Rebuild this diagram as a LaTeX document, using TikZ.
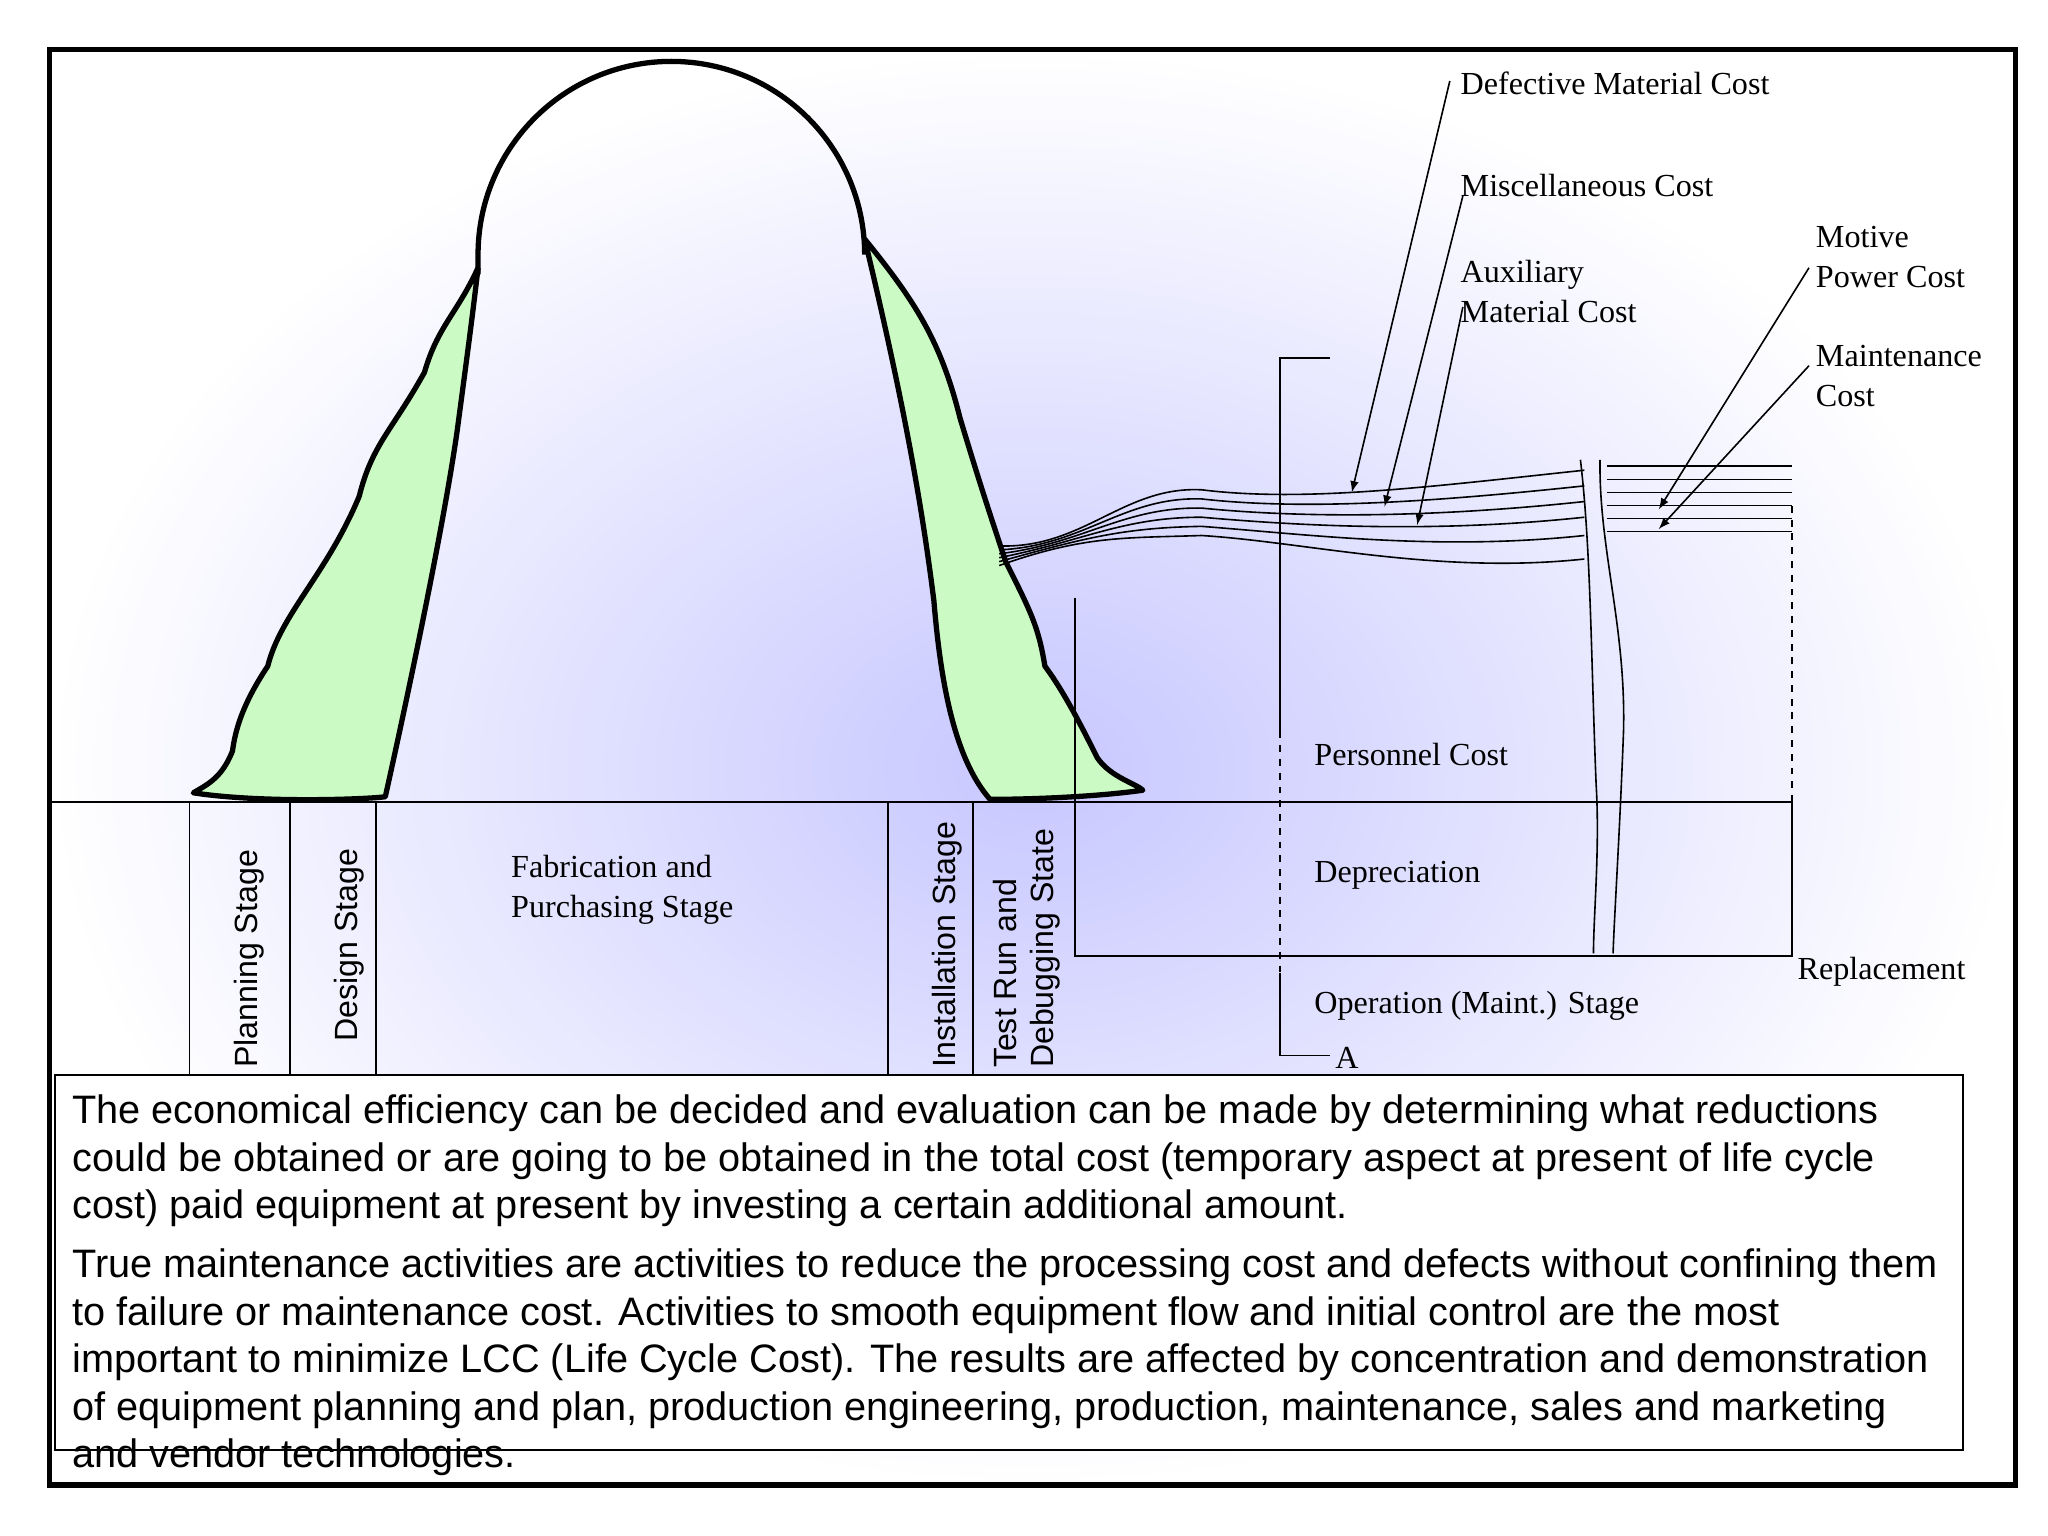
\documentclass[tikz,border=0pt]{standalone}
\usepackage{fontspec}
\setmainfont{Liberation Serif}
\setsansfont{Liberation Sans}
\usetikzlibrary{positioning,shadings}
\definecolor{legfill}{RGB}{204,250,196}
\tikzset{
  heavy/.style={line width=2.3pt,line join=round},
  thin/.style={line width=0.7pt},
  lbl/.style={anchor=west,font=\fontsize{14}{17.5}\selectfont,align=left,inner sep=0pt},
  stage/.style={rotate=90,anchor=west,font=\sffamily\fontsize{14}{16}\selectfont,align=left,inner sep=0pt},
  pointer/.style={thin,-latex},
}
\begin{document}
\begin{tikzpicture}[x=0.02cm,y=-0.02cm]
  \useasboundingbox (0,0) rectangle (1568,1176);
  % background
  \fill[white] (38,38) rectangle (1543,1137);
  \shade[inner color=blue!22,outer color=white] (38,38) rectangle (1543,1137);
  % green legs of the arch
  \filldraw[fill=legfill,heavy] (366,205) .. controls (350,240) and (335,250) .. (325,285)
    .. controls (300,330) and (285,340) .. (275,380) .. controls (250,440) and (215,470) .. (205,510)
    .. controls (185,540) and (180,560) .. (178,575) .. controls (170,595) and (160,600) .. (148,607)
    .. controls (200,615) and (280,612) .. (295,610)
    .. controls (315,520) and (340,400) .. (350,330) .. controls (358,270) and (362,240) .. (366,205);
  \filldraw[fill=legfill,heavy] (662,183) .. controls (700,230) and (720,260) .. (735,320)
    .. controls (750,370) and (760,400) .. (770,430) .. controls (790,470) and (795,480) .. (800,510)
    .. controls (815,530) and (830,560) .. (840,580)
    .. controls (850,595) and (870,600) .. (875,605) .. controls (840,610) and (790,612) .. (758,612)
    .. controls (730,580) and (720,520) .. (715,460) .. controls (705,380) and (690,300) .. (662,183);
  % arch
  \draw[heavy] (366,210) -- (366,195) arc[start angle=180,end angle=360,radius=148];
  % stage grid
  \coordinate (b0) at (38,614);
  \coordinate (b1) at (1372,614);
  \draw[thin] (b0) -- (b1);
  \foreach \x in {145,222,288,680,745}
    \draw[thin] (\x,614) -- (\x,822);
  \draw[thin] (823,458) -- (823,732) -- (1372,732) -- (1372,614);
  \draw[thin,dashed] (1372,614) -- (1372,385);
  % bracket A
  \draw[thin] (1018,274) -- (980,274) -- (980,560);
  \draw[thin,dashed] (980,560) -- (980,745);
  \draw[thin] (980,745) -- (980,808) -- (1018,808);
  % cost lines
  \foreach \k/\e in {0/360,1/372,2/384,3/396,4/410,5/428}
    \draw[thin] (765,418+\k*3) .. controls (830,420-\k*2) and (860,372+\k*8) .. (920,375+\k*7)
      .. controls (1000,385+\k*6) and (1100,\e+12) .. (1213,\e);
  \foreach \k in {0,...,5}
    \draw[thin] (1230,357+\k*10) -- (1372,357+\k*10);
  % double break line
  \draw[thin] (1210,352) .. controls (1218,420) and (1218,500) .. (1222,600) .. controls (1225,650) and (1220,700) .. (1220,730);
  \draw[thin] (1225,352) .. controls (1224,420) and (1245,480) .. (1243,560) .. controls (1240,640) and (1236,700) .. (1235,730);
  % labels
  \node[lbl] (defect) at (1118,64) {Defective Material Cost};
  \node[lbl] (misc) at (1118,142) {Miscellaneous Cost};
  \node[lbl] (aux) at (1118,223) {Auxiliary\\Material Cost};
  \node[lbl] (motive) at (1390,197) {Motive\\Power Cost};
  \node[lbl] (maint) at (1390,288) {Maintenance\\Cost};
  \node[lbl] (person) at (1006,578) {Personnel Cost};
  \node[lbl] (depr) at (1006,670) {Depreciation};
  \node[lbl] (repl) at (1376,744) {Replacement};
  \node[lbl] (oper) at (1006,770) {Operation (Maint.) Stage};
  \node[lbl] (pointA) at (1022,810) {A};
  \node[lbl] (fabr) at (391,681) {Fabrication and\\Purchasing Stage};
  % pointers
  \draw[pointer] (1110,62) -- (1035,377);
  \draw[pointer] (1120,150) -- (1060,388);
  \draw[pointer] (1120,235) -- (1085,402);
  \draw[pointer] (1385,205) -- (1270,390);
  \draw[pointer] (1385,280) -- (1270,405);
  % rotated stage names
  \node[stage] (plan) at (191,818) {Planning Stage};
  \node[stage] (design) at (267,798) {Design Stage};
  \node[stage] (install) at (725,818) {Installation Stage};
  \node[stage,anchor=south west] (test) at (812,818) {Test Run and\\Debugging State};
  % text box
  \draw[thin,fill=white] (42,823) rectangle (1503,1110);
  \node[anchor=north west,inner sep=0pt,align=left,font=\sffamily\fontsize{17.3}{20.7}\selectfont] (body) at (55,838)
    {The economical efficiency can be decided and evaluation can be made by determining what reductions\\
     could be obtained or are going to be obtained in the total cost (temporary aspect at present of life cycle\\
     cost) paid equipment at present by investing a certain additional amount.\\[5pt]
     True maintenance activities are activities to reduce the processing cost and defects without confining them\\
     to failure or maintenance cost. Activities to smooth equipment flow and initial control are the most\\
     important to minimize LCC (Life Cycle Cost). The results are affected by concentration and demonstration\\
     of equipment planning and plan, production engineering, production, maintenance, sales and marketing\\
     and vendor technologies.};
  % frame
  \draw[line width=2.3pt] (38,38) rectangle (1543,1137);
\end{tikzpicture}
\end{document}
